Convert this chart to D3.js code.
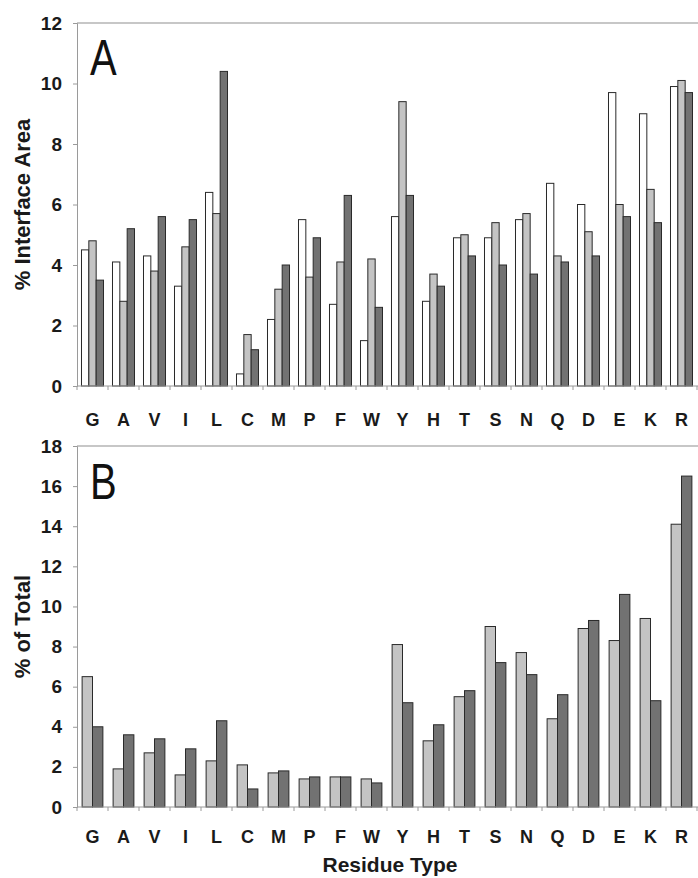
<!doctype html>
<html>
<head>
    <meta charset="utf-8">
    <title>Residue composition</title>
    <style>
        body { margin: 0; background: #fff; }
        svg text { font-family: "Liberation Sans", Arial, sans-serif; }
        .tick text, .cat-label, .axis-title { font-weight: bold; fill: #1a1a1a; }
        .bar { stroke: #2a2a2a; stroke-width: 1; }
    </style>
</head>
<body>
    <div id="chart"></div>

    <script src="https://cdnjs.cloudflare.com/ajax/libs/d3/7.8.5/d3.min.js"></script>
    <script>
        var residues = ['G', 'A', 'V', 'I', 'L', 'C', 'M', 'P', 'F', 'W',
                        'Y', 'H', 'T', 'S', 'N', 'Q', 'D', 'E', 'K', 'R'];

        // panel A, % interface area, three series
        var areaWhite = [4.5, 4.1, 4.3, 3.3, 6.4, 0.4, 2.2, 5.5, 2.7, 1.5,
                         5.6, 2.8, 4.9, 4.9, 5.5, 6.7, 6.0, 9.7, 9.0, 9.9];
        var areaLight = [4.8, 2.8, 3.8, 4.6, 5.7, 1.7, 3.2, 3.6, 4.1, 4.2,
                         9.4, 3.7, 5.0, 5.4, 5.7, 4.3, 5.1, 6.0, 6.5, 10.1];
        var areaDark  = [3.5, 5.2, 5.6, 5.5, 10.4, 1.2, 4.0, 4.9, 6.3, 2.6,
                         6.3, 3.3, 4.3, 4.0, 3.7, 4.1, 4.3, 5.6, 5.4, 9.7];

        // panel B, % of total, two series
        var totalLight = [6.5, 1.9, 2.7, 1.6, 2.3, 2.1, 1.7, 1.4, 1.5, 1.4,
                          8.1, 3.3, 5.5, 9.0, 7.7, 4.4, 8.9, 8.3, 9.4, 14.1];
        var totalDark  = [4.0, 3.6, 3.4, 2.9, 4.3, 0.9, 1.8, 1.5, 1.5, 1.2,
                          5.2, 4.1, 5.8, 7.2, 6.6, 5.6, 9.3, 10.6, 5.3, 16.5];

        var ticksA = [0, 2, 4, 6, 8, 10, 12];
        var ticksB = [0, 2, 4, 6, 8, 10, 12, 14, 16, 18];

        var svg_width = 698;
        var svg_height = 878;

        var svg = d3.select('#chart').append('svg')
            .attr('width', svg_width)
            .attr('height', svg_height);

        var x_left = 77;
        var x_right = 697;

        drawPanel({
            top: 23, bottom: 386, max: 12, ticks: ticksA,
            series: [areaWhite, areaLight, areaDark],
            colors: ['#ffffff', '#c4c4c4', '#727272'],
            padding: 0.29,
            letter: 'A', letterY: 75,
            title: '% Interface Area',
            labelY: 426
        });

        drawPanel({
            top: 446, bottom: 807, max: 18, ticks: ticksB,
            series: [totalLight, totalDark],
            colors: ['#c4c4c4', '#727272'],
            padding: 0.33,
            letter: 'B', letterY: 499,
            title: '% of Total',
            labelY: 843
        });

        svg.append('text')
            .attr('class', 'axis-title')
            .attr('x', 390)
            .attr('y', 872)
            .attr('text-anchor', 'middle')
            .style('font-size', '21px')
            .text('Residue Type');

        function drawPanel(p) {
            var g = svg.append('g');

            var x = d3.scaleBand()
                .domain(residues)
                .range([x_left, x_right])
                .paddingInner(p.padding)
                .paddingOuter(p.padding / 2);

            var xs = d3.scaleBand()
                .domain(d3.range(p.series.length))
                .range([0, x.bandwidth()]);

            var y = d3.scaleLinear()
                .domain([0, p.max])
                .range([p.bottom, p.top]);

            // top frame line
            g.append('line')
                .attr('x1', x_left).attr('x2', svg_width)
                .attr('y1', p.top).attr('y2', p.top)
                .attr('stroke', '#b5b5b5')
                .attr('stroke-width', 1.5);

            var yAxis = g.append('g')
                .attr('transform', 'translate(' + x_left + ',0)')
                .call(d3.axisLeft(y).tickValues(p.ticks).tickSize(4).tickPadding(11));

            yAxis.select('.domain').attr('stroke', '#9a9a9a');
            yAxis.selectAll('.tick line').attr('stroke', '#9a9a9a');
            yAxis.selectAll('.tick text').style('font-size', '19px');

            // bars
            p.series.forEach(function(values, s) {
                g.selectAll('rect.s' + s)
                    .data(values)
                  .enter().append('rect')
                    .attr('class', 'bar s' + s)
                    .attr('x', function(d, i) { return x(residues[i]) + xs(s); })
                    .attr('y', function(d) { return y(d); })
                    .attr('width', xs.bandwidth())
                    .attr('height', function(d) { return p.bottom - y(d); })
                    .attr('fill', p.colors[s]);
            });

            // baseline with category divider ticks
            var step = x.step();
            var edges = residues.map(function(r) {
                return x(r) - step * x.paddingOuter();
            });
            edges.push(x_right);

            g.append('line')
                .attr('x1', x_left).attr('x2', svg_width)
                .attr('y1', p.bottom).attr('y2', p.bottom)
                .attr('stroke', '#9a9a9a');

            g.selectAll('line.divider')
                .data(edges)
              .enter().append('line')
                .attr('class', 'divider')
                .attr('x1', function(d) { return d; })
                .attr('x2', function(d) { return d; })
                .attr('y1', p.bottom)
                .attr('y2', p.bottom + 4)
                .attr('stroke', '#9a9a9a');

            g.selectAll('text.cat-label')
                .data(residues)
              .enter().append('text')
                .attr('class', 'cat-label')
                .attr('x', function(d) { return x(d) + x.bandwidth() / 2; })
                .attr('y', p.labelY)
                .attr('text-anchor', 'middle')
                .style('font-size', '18px')
                .text(function(d) { return d; });

            // panel letter, drawn condensed
            g.append('text')
                .attr('transform', 'translate(90,' + p.letterY + ') scale(0.8,1)')
                .style('font-size', '50px')
                .style('fill', '#111')
                .text(p.letter);

            g.append('text')
                .attr('class', 'axis-title')
                .attr('transform', 'translate(30,' + ((p.top + p.bottom) / 2) + ') rotate(-90)')
                .attr('text-anchor', 'middle')
                .style('font-size', '22px')
                .text(p.title);
        }
    </script>
</body>
</html>
